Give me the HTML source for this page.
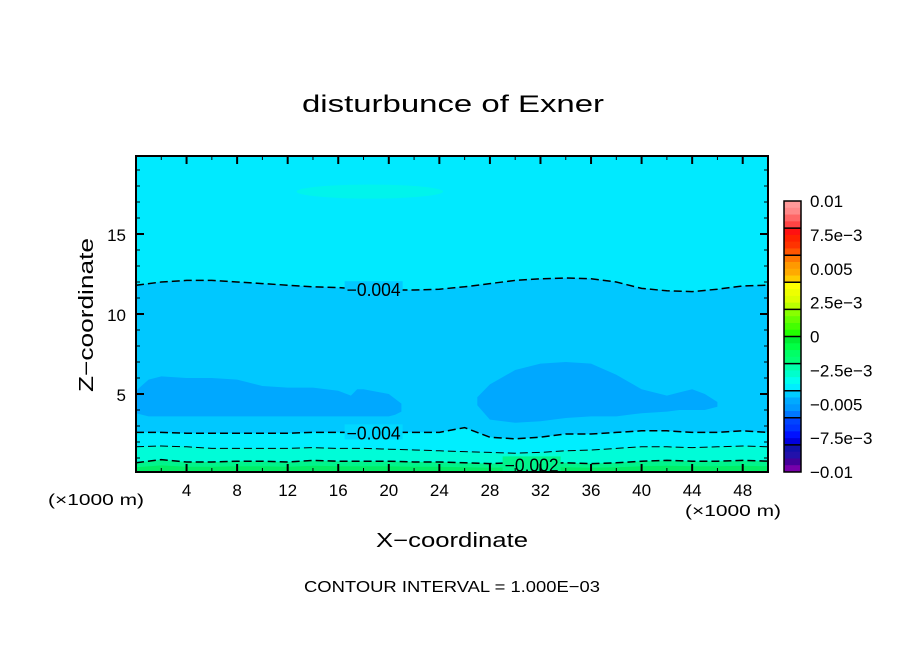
<!DOCTYPE html>
<html><head><meta charset="utf-8"><style>
html,body{margin:0;padding:0;background:#fff}
svg{display:block;font-family:"Liberation Sans","DejaVu Sans",sans-serif}
</style></head><body>
<svg id="chart" width="904" height="654" viewBox="0 0 904 654">
<text x="453" y="112" font-size="24" text-anchor="middle" textLength="302" lengthAdjust="spacingAndGlyphs">disturbunce of Exner</text>
<g id="field"></g>
<g id="lines"></g>
<g id="axes"></g>
<g id="cbar"></g>
<text x="452" y="547" font-size="20" text-anchor="middle" textLength="152" lengthAdjust="spacingAndGlyphs">X−coordinate</text>
<text transform="translate(93,315) rotate(-90)" font-size="20" text-anchor="middle" textLength="154" lengthAdjust="spacingAndGlyphs">Z−coordinate</text>
<text x="452" y="592" font-size="16" text-anchor="middle" textLength="296" lengthAdjust="spacingAndGlyphs">CONTOUR INTERVAL = 1.000E−03</text>
<text x="48" y="505" font-size="16" textLength="96" lengthAdjust="spacingAndGlyphs">(×1000 m)</text>
<text x="685" y="516" font-size="16" textLength="96" lengthAdjust="spacingAndGlyphs">(×1000 m)</text>
</svg>
<script>
// data
const xs = [0,2,4,6,8,10,12,14,16,18,20,22,24,26,28,30,32,34,36,38,40,42,44,46,48,50];
const upper004 = [11.8,12.0,12.1,12.1,12.0,11.9,11.8,11.7,11.65,11.55,11.5,11.5,11.55,11.7,11.9,12.1,12.2,12.25,12.2,12.0,11.6,11.45,11.4,11.55,11.75,11.8];
const lower004 = [2.6,2.6,2.55,2.55,2.55,2.55,2.55,2.6,2.6,2.6,2.6,2.6,2.6,2.9,2.3,2.2,2.3,2.5,2.5,2.6,2.7,2.7,2.6,2.6,2.7,2.6];
const line003 = [1.7,1.75,1.7,1.6,1.6,1.6,1.6,1.65,1.6,1.6,1.55,1.5,1.45,1.4,1.35,1.3,1.35,1.45,1.5,1.6,1.7,1.7,1.65,1.7,1.75,1.7];
const line002 = [0.7,0.9,0.75,0.75,0.8,0.8,0.75,0.85,0.8,0.8,0.8,0.75,0.75,0.7,0.65,0.7,0.65,0.7,0.65,0.7,0.8,0.85,0.8,0.8,0.85,0.8];
const blobAX = [0,1,2,4,6,8,10,12,14,16,17,17.5,18,20,21,21,20.5,20];
const blobATop = [5.2,5.9,6.1,6.0,6.0,5.9,5.5,5.4,5.4,5.2,4.9,5.3,5.3,5.0,4.4,3.9,3.7,3.6];
const blobABot = [3.8,3.6,3.6,3.6,3.6,3.6,3.6,3.6,3.6,3.6,3.6,3.6,3.6,3.6,3.6,3.6,3.6,3.6];
const blobBX = [27,28,30,32,34,36,38,40,42,43,44,45,46];
const blobBTop = [4.8,5.6,6.5,6.9,7.0,6.9,6.2,5.3,4.9,5.1,5.3,5.0,4.5];
const blobBBot = [4.3,3.4,3.2,3.3,3.5,3.6,3.6,3.8,3.9,4.0,4.0,4.0,4.2];
const cbarTicks = [0.01,0.0075,0.005,0.0025,0,-0.0025,-0.005,-0.0075,-0.01];
const cbarTickLabels = ["0.01","7.5e−3","0.005","2.5e−3","0","−2.5e−3","−0.005","−7.5e−3","−0.01"];
const cbarColors = ["#ff9999","#ff8888","#ff6666","#ff4444","#ff1111","#ff2200","#ff3300","#ff5500","#ff7700","#ff9900","#ffaa00","#ffcc00","#ffff00","#eeff00","#ddff00","#bbff00","#88ff00","#66ff00","#44ff00","#22ff00","#00ee33","#00ff44","#00ff66","#00ff77","#00ffaa","#00ffcc","#00ffee","#00eeff","#00ccff","#00aaff","#0099ff","#0077ff","#0044ff","#0033ff","#0011ff","#0000dd","#1111aa","#2211aa","#440099","#7700aa"];
const xTicks = [4,8,12,16,20,24,28,32,36,40,44,48];
const yTicks = [5,10,15];

const NS="http://www.w3.org/2000/svg";
const X0=136,X1=768,Y0=472,Y1=156,XMIN=0,XMAX=50,ZMIN=0.125,ZMAX=19.875;
const sx=v=>X0+(v-XMIN)/(XMAX-XMIN)*(X1-X0);
const sy=v=>Y0-(v-ZMIN)/(ZMAX-ZMIN)*(Y0-Y1);
function mk(tag,attrs,parent){const e=document.createElementNS(NS,tag);for(const k in attrs)e.setAttribute(k,attrs[k]);parent.appendChild(e);return e;}
const pts=(X,Z)=>X.map((x,i)=>sx(x).toFixed(1)+","+sy(Z[i]).toFixed(1));
function band(X,top,bot){
  const a=pts(X,top);
  const b=Array.isArray(bot)?pts(X,bot).reverse():[sx(X[X.length-1])+","+sy(bot),sx(X[0])+","+sy(bot)];
  return a.concat(b).join(" ");
}
const field=document.getElementById('field');
let r=mk('rect',{x:X0,y:Y1,width:X1-X0,height:Y0-Y1,fill:'#00eaff'},field);


const zBot=Array(xs.length).fill(ZMIN);
const layers=[[upper004,lower004,'#00c8ff','mid-layer'],[lower004,line003,'#00eeff','lower-cyan-layer'],[line003,line002,'#00fcd8','aqua-layer'],[line002,zBot,'#00f48c','surface-green-layer']];
layers.forEach(L=>{const p=mk('polygon',{points:band(xs,L[0],L[1]),fill:L[2]},field);

});
let g=mk('polygon',{points:band(xs,line002.map(v=>v*0.6),zBot),fill:'#00ee66'},field);


let ba=mk('polygon',{points:band(blobAX,blobATop,blobABot),fill:'#00a8ff'},field);


let bb=mk('polygon',{points:band(blobBX,blobBTop,blobBBot),fill:'#00a8ff'},field);


let el=mk('ellipse',{cx:sx(18.5),cy:sy(17.65),rx:sx(5.8)-sx(0),ry:7,fill:'#00f4ec'},field);



const lines=document.getElementById('lines');
[[upper004,'contour-upper-m004'],[lower004,'contour-lower-m004'],[line003,'contour-m003'],[line002,'contour-m002']].forEach((L,i)=>{
  const p=mk('polyline',{points:pts(xs,L[0]).join(" "),fill:'none',stroke:'#000','stroke-width':i==2?1:1.5,'stroke-dasharray':'8,4'},lines);
  
  
});
function clab(x,z,t,name,bg){
  const w=58;
  mk('rect',{x:sx(x)-w/2,y:sy(z)-8,width:w,height:15,fill:bg},lines);
  const tt=mk('text',{x:sx(x),y:sy(z)+7,'font-size':18,'text-anchor':'middle',textLength:54,lengthAdjust:'spacingAndGlyphs'},lines);tt.textContent=t;
  
  
}
clab(18.8,11.55,"−0.004","label-upper-m004",'#00c8ff');
clab(18.8,2.6,"−0.004","label-lower-m004",'#00d8ff');
clab(31.3,0.6,"−0.002","label-m002",'#00f48c');

const axes=document.getElementById('axes');
mk('rect',{x:X0,y:Y1,width:X1-X0,height:Y0-Y1,fill:'none',stroke:'#000','stroke-width':2},axes);
for(let v=2;v<50;v+=2){const major=v%4==0;const L=major?8:4;
  mk('line',{x1:sx(v),x2:sx(v),y1:Y0,y2:Y0-L,stroke:'#000','stroke-width':major?2:1},axes);
  mk('line',{x1:sx(v),x2:sx(v),y1:Y1,y2:Y1+L,stroke:'#000','stroke-width':major?2:1},axes);}
for(let v=1;v<20;v++){const major=v%5==0;const L=major?8:4;
  mk('line',{x1:X0,x2:X0+L,y1:sy(v),y2:sy(v),stroke:'#000','stroke-width':major?2:1},axes);
  mk('line',{x1:X1,x2:X1-L,y1:sy(v),y2:sy(v),stroke:'#000','stroke-width':major?2:1},axes);}
xTicks.forEach(v=>{const t=mk('text',{x:sx(v),y:496,'font-size':17,'text-anchor':'middle'},axes);t.textContent=v;

});
yTicks.forEach(v=>{const t=mk('text',{x:126,y:sy(v)+7,'font-size':17,'text-anchor':'end'},axes);t.textContent=v;

});

const cb=document.getElementById('cbar');
const CX=784,CW=17,CT=201,CB=472,VMAX=0.01,VMIN=-0.01;
const cy=v=>CT+(VMAX-v)/(VMAX-VMIN)*(CB-CT);
const n=cbarColors.length;
cbarColors.forEach((c,i)=>{const v0=VMAX-i*(VMAX-VMIN)/n,v1=VMAX-(i+1)*(VMAX-VMIN)/n;
  const s=mk('rect',{x:CX,y:cy(v0),width:CW,height:cy(v1)-cy(v0)+0.5,fill:c},cb);
  
  });
for(let k=1;k<10;k++){const v=VMAX-k*0.002;mk('line',{x1:CX,x2:CX+CW,y1:cy(v),y2:cy(v),stroke:'#000','stroke-width':1.5},cb);}
mk('rect',{x:CX,y:CT,width:CW,height:CB-CT,fill:'none',stroke:'#000','stroke-width':1.5},cb);
cbarTicks.forEach((v,i)=>{const t=mk('text',{x:810,y:cy(v)+6,'font-size':17},cb);t.textContent=cbarTickLabels[i];

});
</script>
</body></html>
